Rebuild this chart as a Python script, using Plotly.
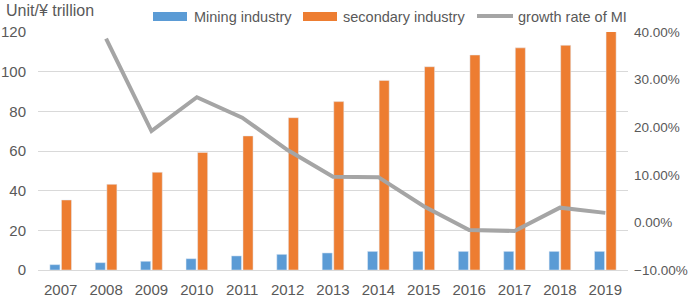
import plotly.graph_objects as go

years = ["2007", "2008", "2009", "2010", "2011", "2012", "2013",
         "2014", "2015", "2016", "2017", "2018", "2019"]
mining = [2.7, 3.7, 4.4, 5.7, 7.1, 7.9, 8.6, 9.4, 9.4, 9.4, 9.4, 9.4, 9.4]
secondary = [35.3, 43.2, 49.3, 59.3, 67.6, 76.8, 84.9, 95.6, 102.5, 108.4, 112.0, 113.3, 120.5]
growth_mi = [None, 38.6, 19.2, 26.3, 22.0, 15.2, 9.6, 9.5, 3.4, -1.6, -1.8, 3.1, 2.0]

BLUE = "#5B9BD5"
ORANGE = "#ED7D31"
GRAY = "#A5A5A5"
TXT = "#595959"
FONT = "Liberation Sans, Arial, sans-serif"

W, H = 699, 300
L, R, T, B = 38, 71, 32, 30
pw, ph = W - L - R, H - T - B

def px(x):
    return (x - L) / pw

def py(y):
    return (H - B - y) / ph

fig = go.Figure()
fig.add_trace(go.Bar(x=years, y=mining, name="Mining industry", marker_color=BLUE))
fig.add_trace(go.Bar(x=years, y=secondary, name="secondary industry", marker_color=ORANGE))
fig.add_trace(go.Scatter(x=years, y=growth_mi, name="growth rate of MI", mode="lines",
                         line=dict(color=GRAY, width=4), yaxis="y2", connectgaps=False))

shapes = []
annotations = []
# custom legend
legend_items = [
    ("rect", BLUE, 153, 187, "Mining industry", 192),
    ("rect", ORANGE, 303, 337, "secondary industry", 341),
    ("line", GRAY, 477, 513, "growth rate of MI", 516),
]
for kind, col, x0, x1, label, tx in legend_items:
    if kind == "rect":
        shapes.append(dict(type="rect", xref="paper", yref="paper", x0=px(x0), x1=px(x1),
                           y0=py(21), y1=py(12), fillcolor=col, line=dict(width=0)))
    else:
        shapes.append(dict(type="line", xref="paper", yref="paper", x0=px(x0), x1=px(x1),
                           y0=py(16), y1=py(16), line=dict(color=col, width=4)))
    annotations.append(dict(text=label, xref="paper", yref="paper", x=px(tx), y=py(17),
                            xanchor="left", yanchor="middle", showarrow=False,
                            font=dict(size=14.5, color=TXT, family=FONT)))

annotations.append(dict(text="Unit/¥ trillion", xref="paper", yref="paper", x=px(4), y=py(10),
                        xanchor="left", yanchor="middle", showarrow=False,
                        font=dict(size=16, color=TXT, family=FONT)))

fig.update_layout(
    width=W, height=H,
    margin=dict(l=L, r=R, t=T, b=B, pad=0),
    paper_bgcolor="white", plot_bgcolor="white",
    showlegend=False,
    barmode="group", bargap=0.49, bargroupgap=0.13,
    font=dict(family=FONT, size=15, color=TXT),
    xaxis=dict(showgrid=False, showline=False, ticks="", automargin=False,
               tickfont=dict(size=15, color=TXT), ticklabelstandoff=9),
    yaxis=dict(range=[0, 120], dtick=20, showgrid=True, gridcolor="#D9D9D9", gridwidth=1,
               zeroline=True, zerolinecolor="#D9D9D9", zerolinewidth=1, automargin=False,
               ticks="", tickfont=dict(size=15, color=TXT), ticklabelstandoff=11),
    yaxis2=dict(range=[-10, 40], dtick=10, overlaying="y", side="right", showgrid=False,
                zeroline=False, tickformat=".2f", ticksuffix="%", ticks="", automargin=False,
                tickfont=dict(size=13.5, color=TXT), ticklabelstandoff=5),
    shapes=shapes, annotations=annotations,
)

fig.write_html("out.html", config={"displayModeBar": False},
               post_script="document.body.style.margin='0';document.body.style.overflow='hidden';")
